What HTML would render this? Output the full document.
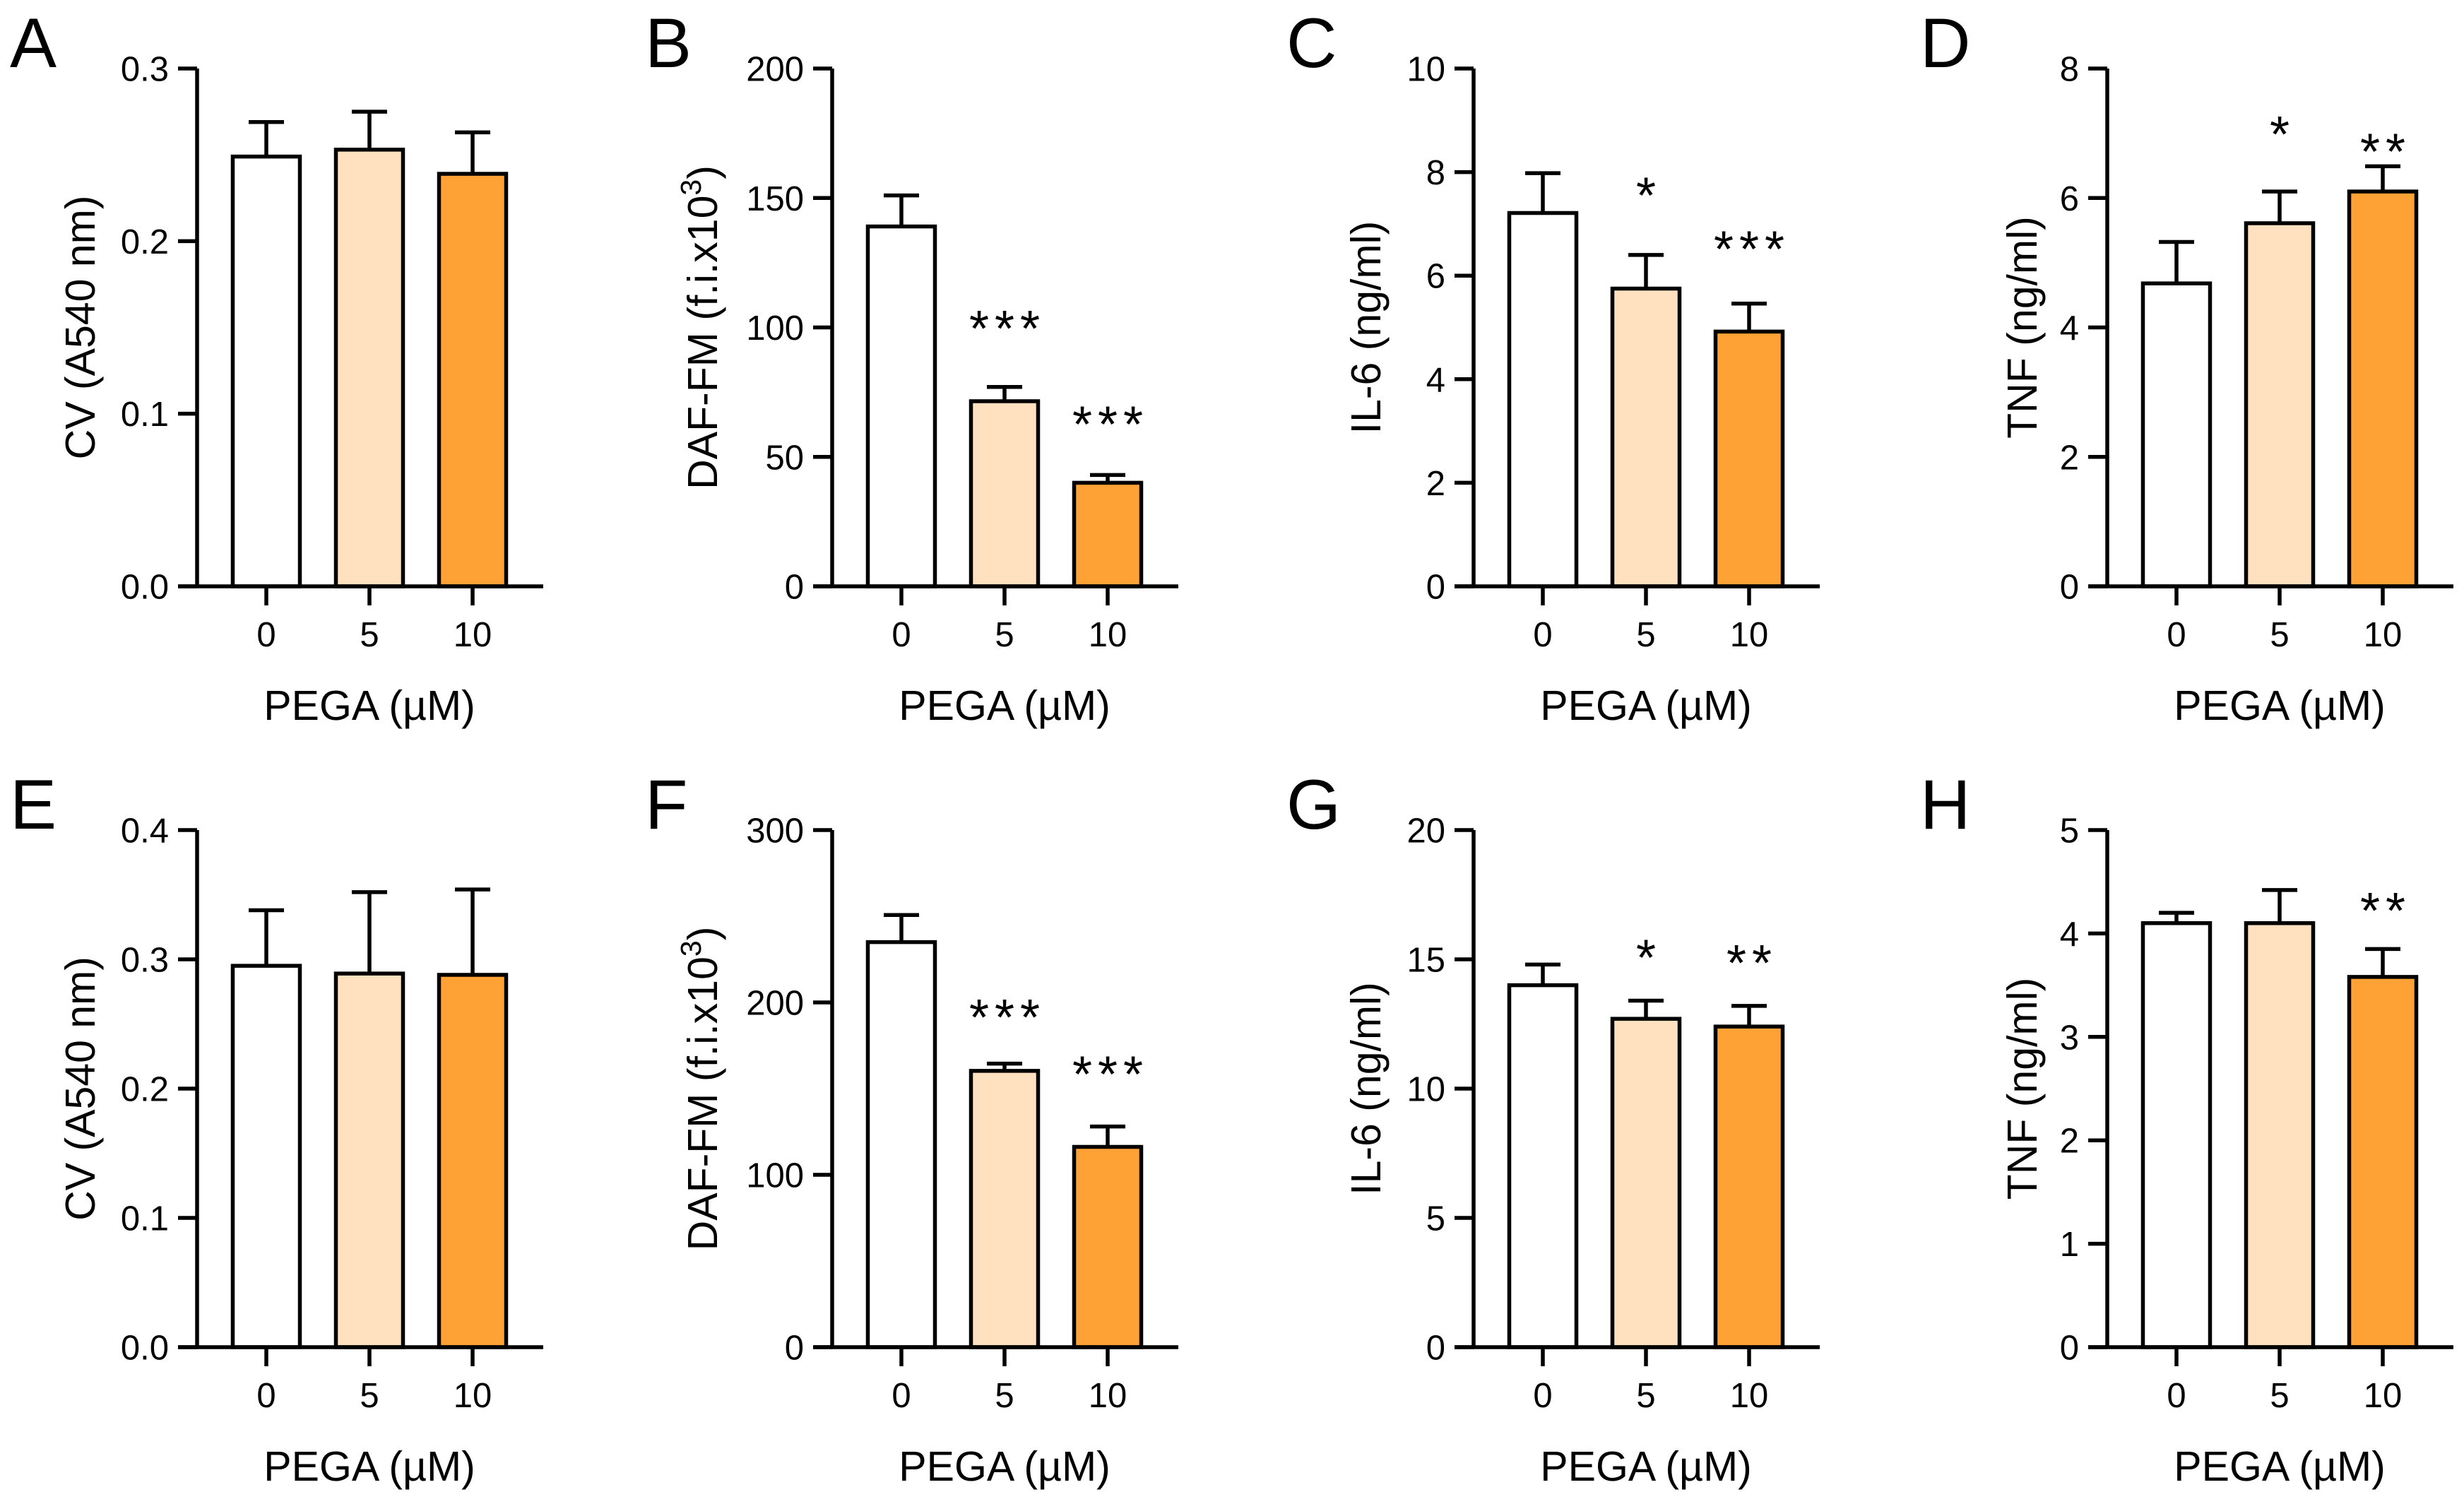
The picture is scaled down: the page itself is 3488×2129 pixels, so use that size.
<!DOCTYPE html>
<html><head><meta charset="utf-8"><style>
html,body{margin:0;padding:0;background:#fff;}
svg{display:block;font-family:"Liberation Sans",Arial,sans-serif;}
</style></head>
<body>
<svg id="fig" width="3488" height="2129" viewBox="0 0 3488 2129" xmlns="http://www.w3.org/2000/svg"></svg>
<script>
const categories = ["0", "5", "10"];
const panelLetters = ["A","B","C","D","E","F","G","H"];
const yTitles = ["CV (A540 nm)","DAF-FM","IL-6 (ng/ml)","TNF (ng/ml)","CV (A540 nm)","DAF-FM","IL-6 (ng/ml)","TNF (ng/ml)"];
const yMax = [0.3, 200, 10, 8, 0.4, 300, 20, 5];
const yStep = [0.1, 50, 2, 2, 0.1, 100, 5, 1];
const yDecimals = [1, 0, 0, 0, 1, 0, 0, 0];
const meansA = [0.249, 0.253, 0.239];
const upperA = [0.269, 0.275, 0.263];
const meansB = [139, 71.5, 40];
const upperB = [151, 77, 43];
const meansC = [7.21, 5.75, 4.92];
const upperC = [7.98, 6.40, 5.46];
const meansD = [4.68, 5.61, 6.10];
const upperD = [5.32, 6.10, 6.49];
const meansE = [0.295, 0.289, 0.288];
const upperE = [0.338, 0.352, 0.354];
const meansF = [235, 160.3, 116.2];
const upperF = [250.7, 164.5, 128];
const meansG = [14.0, 12.7, 12.4];
const upperG = [14.8, 13.4, 13.2];
const meansH = [4.1, 4.1, 3.58];
const upperH = [4.2, 4.42, 3.85];
const starsA = ["", "", ""];
const starsB = ["", "***", "***"];
const starsC = ["", "*", "***"];
const starsD = ["", "*", "**"];
const starsE = ["", "", ""];
const starsF = ["", "***", "***"];
const starsG = ["", "*", "**"];
const starsH = ["", "", "**"];
const starPosA = [0, 0, 0];
const starPosB = [0, 104, 67];
const starPosC = [0, 7.77, 6.73];
const starPosD = [0, 7.16, 6.89];
const starPosE = [0, 0, 0];
const starPosF = [0, 198, 165];
const starPosG = [0, 15.5, 15.3];
const starPosH = [0, 0, 4.33];

const allMeans = [meansA, meansB, meansC, meansD, meansE, meansF, meansG, meansH];
const allUpper = [upperA, upperB, upperC, upperD, upperE, upperF, upperG, upperH];
const allStars = [starsA, starsB, starsC, starsD, starsE, starsF, starsG, starsH];
const allStarPos = [starPosA, starPosB, starPosC, starPosD, starPosE, starPosF, starPosG, starPosH];

const NS = "http://www.w3.org/2000/svg";
const svg = document.getElementById("fig");
const colX = [279, 1178, 2086, 2983];
const rowTop = [97, 1175];
const rowBase = [830, 1907];
const titleOff = [-166, -184, -153, -121];
const fills = ["#ffffff", "#ffe1bf", "#ffa235"];
const SW = 5.5;
const TICKFS = 49, TITLEFS = 59;

function mk(tag, attrs, parent) {
  const e = document.createElementNS(NS, tag);
  for (const k in attrs) e.setAttribute(k, attrs[k]);
  (parent || svg).appendChild(e);
  return e;
}

for (let p = 0; p < 8; p++) {
  const ax = colX[p % 4];
  const r = Math.floor(p / 4);
  const top = rowTop[r], base = rowBase[r];
  const ys = v => base - (v / yMax[p]) * (base - top);
  const xc = i => ax + 98 + i * 146;
  const g = mk("g", {});
  
  

  const letter = mk("text", {x: ax - 265, y: r ? 1173 : 95, "font-size": 99}, g);
  letter.textContent = panelLetters[p];
  
  

  for (let i = 0; i < 3; i++) {
    const m = allMeans[p][i], u = allUpper[p][i];
    const bar = mk("rect", {x: xc(i) - 47.5, y: ys(m), width: 95, height: base - ys(m), fill: fills[i], stroke: "#000", "stroke-width": SW}, g);
    
    
    const eb = mk("path", {d: `M${xc(i)},${ys(m)}V${ys(u)}M${xc(i) - 25},${ys(u)}H${xc(i) + 25}`, stroke: "#000", "stroke-width": SW, fill: "none"}, g);
    
    
    const s = allStars[p][i];
    if (s) {
      const n = s.length;
      const sg = mk("g", {}, g);
      
      
      for (let k = 0; k < n; k++) {
        const st = mk("text", {x: xc(i) + (k - (n - 1) / 2) * 36, y: ys(allStarPos[p][i]) + 41, "font-size": 72, "text-anchor": "middle"}, sg);
        st.textContent = "*";
      }
    }
  }
  const yAxis = mk("path", {d: `M${ax},${top}V${base}`, stroke: "#000", "stroke-width": SW, fill: "none"}, g);
  
  
  const xAxis = mk("path", {d: `M${ax - 27},${base}H${ax + 490}`, stroke: "#000", "stroke-width": SW, fill: "none"}, g);
  
  
  const nT = Math.round(yMax[p] / yStep[p]);
  for (let t = 0; t <= nT; t++) {
    const v = t * yStep[p];
    const y = ys(v);
    mk("path", {d: `M${ax - 27},${y}H${ax}`, stroke: "#000", "stroke-width": SW}, g);
    const tl = mk("text", {x: ax - 40, y: y + 17.5, "font-size": TICKFS, "text-anchor": "end"}, g);
    tl.textContent = v.toFixed(yDecimals[p]);
    
    
  }
  for (let i = 0; i < 3; i++) {
    mk("path", {d: `M${xc(i)},${base}V${base + 27}`, stroke: "#000", "stroke-width": SW}, g);
    const xl = mk("text", {x: xc(i), y: base + 85, "font-size": TICKFS, "text-anchor": "middle"}, g);
    xl.textContent = categories[i];
    
    
  }
  const xt = mk("text", {x: xc(1), y: base + 189, "font-size": TITLEFS, "text-anchor": "middle"}, g);
  xt.textContent = "PEGA (\u00b5M)";
  
  
  const tx = ax + titleOff[p % 4], ty = (top + base) / 2;
  const yt = mk("text", {x: 0, y: 0, "font-size": TITLEFS, "text-anchor": "middle", transform: `translate(${tx + 21},${ty}) rotate(-90)`}, g);
  
  
  if (yTitles[p] === "DAF-FM") {
    yt.innerHTML = 'DAF-FM (f.i.x10<tspan dy="-23" font-size="41">3</tspan><tspan dy="23">)</tspan>';
  } else {
    yt.textContent = yTitles[p];
  }
}
</script>
</body></html>
